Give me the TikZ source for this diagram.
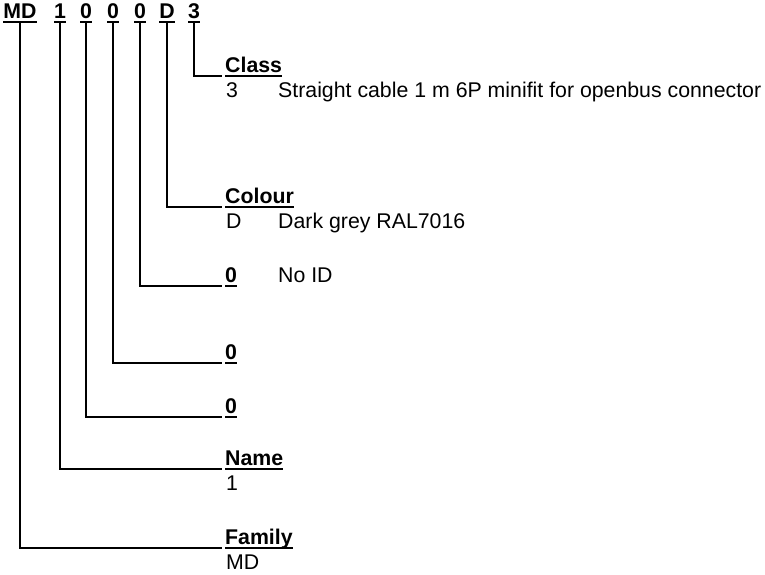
\documentclass[tikz,border=0pt]{standalone}
\usepackage{fontspec}
\setmainfont{Liberation Sans}
\usepackage{tikz}

\newcommand{\ulin}[1]{\setbox0\hbox{#1}\rlap{\rule[-4.5pt]{\wd0}{2pt}}\box0}

\begin{document}
\begin{tikzpicture}[x=1pt, y=-1pt]
    \tikzstyle{code}=[
        anchor = base,
        inner sep = 0pt,
        font = \fontsize{21.3}{25}\selectfont\bfseries
    ]
    \tikzstyle{title}=[
        anchor = base west,
        inner sep = 0pt,
        font = \fontsize{21.3}{25}\selectfont\bfseries
    ]
    \tikzstyle{value}=[
        anchor = base west,
        inner sep = 0pt,
        font = \fontsize{21.3}{25}\selectfont
    ]
    \tikzstyle{link}=[
        draw = black,
        line width = 2pt,
        line join = miter
    ]

    \useasboundingbox (0,0) rectangle (765,574);

    % the code
	\node[code] (fam)   at (20, 18)  {\ulin{MD}};
	\node[code] (nam)   at (60, 18)  {\ulin{1}};
	\node[code] (zeroA) at (86, 18)  {\ulin{0}};
	\node[code] (zeroB) at (113, 18) {\ulin{0}};
	\node[code] (zeroC) at (140, 18) {\ulin{0}};
	\node[code] (col)   at (167, 18) {\ulin{D}};
	\node[code] (cls)   at (194, 18) {\ulin{3}};

    % the fields
	\node[title] (clsT)   at (225, 72.5)  {\ulin{Class}};
	\node[value] (clsV)   at (226, 97)    {3};
	\node[value] (clsD)   at (278, 97)    {Straight cable 1 m 6P minifit for openbus connector};
	\node[title] (colT)   at (225, 203.5) {\ulin{Colour}};
	\node[value] (colV)   at (226, 228)   {D};
	\node[value] (colD)   at (278, 228)   {Dark grey RAL7016};
	\node[title] (zeroCT) at (225, 282.5) {\ulin{0}};
	\node[value] (zeroCD) at (278, 282.5) {No ID};
	\node[title] (zeroBT) at (225, 359.5) {\ulin{0}};
	\node[title] (zeroAT) at (225, 413.5) {\ulin{0}};
	\node[title] (namT)   at (225, 465.5) {\ulin{Name}};
	\node[value] (namV)   at (226, 490)   {1};
	\node[title] (famT)   at (225, 544.5) {\ulin{Family}};
	\node[value] (famV)   at (226, 569)   {MD};

	\path[link] (cls.south)   |- ([xshift=-3pt, yshift=1pt]clsT.south west);
	\path[link] (col.south)   |- ([xshift=-3pt, yshift=1pt]colT.south west);
	\path[link] (zeroC.south) |- ([xshift=-3pt, yshift=1pt]zeroCT.south west);
	\path[link] (zeroB.south) |- ([xshift=-3pt, yshift=1pt]zeroBT.south west);
	\path[link] (zeroA.south) |- ([xshift=-3pt, yshift=1pt]zeroAT.south west);
	\path[link] (nam.south)   |- ([xshift=-3pt, yshift=1pt]namT.south west);
	\path[link] (fam.south)   |- ([xshift=-3pt, yshift=1pt]famT.south west);

\end{tikzpicture}
\end{document}
